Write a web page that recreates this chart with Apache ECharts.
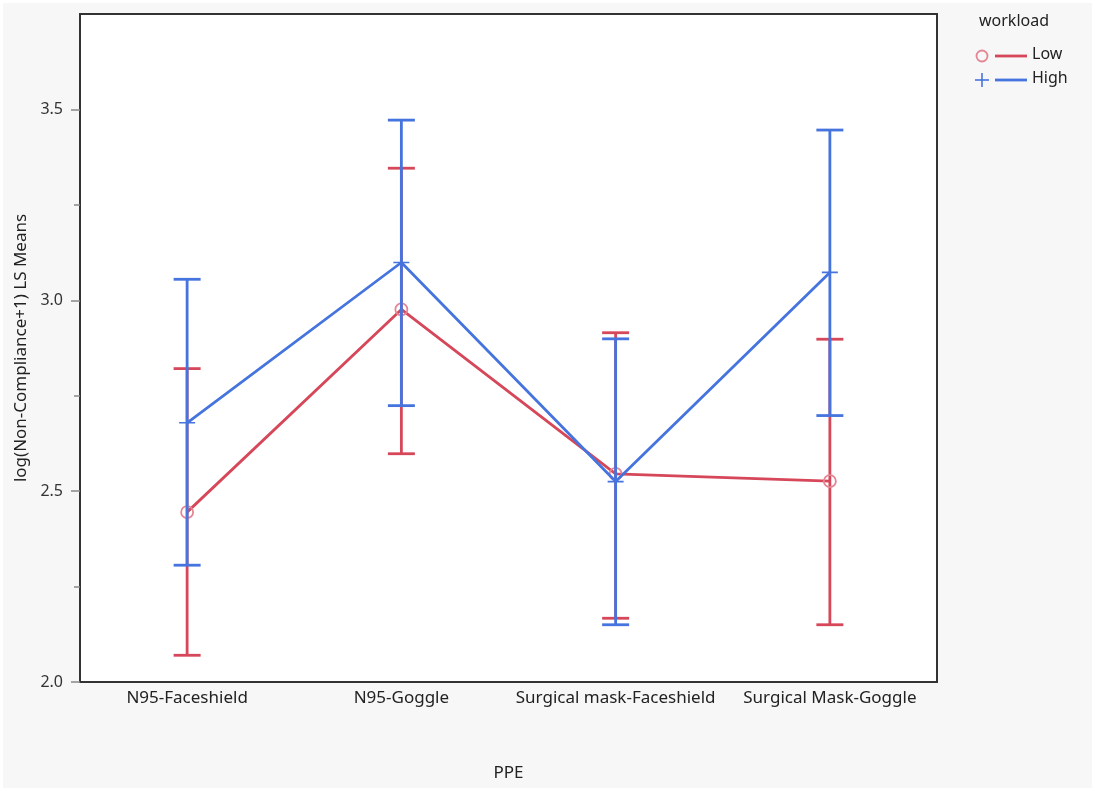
<!DOCTYPE html>
<html>
<head>
<meta charset="utf-8">
<script src="https://cdn.jsdelivr.net/npm/echarts@6/dist/echarts.min.js"></script>
<style>
html,body{margin:0;padding:0;background:#fff;}
#c{width:1095px;height:791px;}
</style>
</head>
<body>
<div id="c"></div>
<script>
// ---- data ----
var categories = ['N95-Faceshield', 'N95-Goggle', 'Surgical mask-Faceshield', 'Surgical Mask-Goggle'];
var lowMean  = [2.445, 2.976, 2.545, 2.526];
var lowUpper = [2.821, 3.346, 2.915, 2.898];
var lowLower = [2.070, 2.598, 2.167, 2.150];
var highMean  = [2.679, 3.099, 2.525, 3.073];
var highUpper = [3.055, 3.472, 2.899, 3.446];
var highLower = [2.306, 2.724, 2.150, 2.698];
var yMajorTicks = [2.0, 2.5, 3.0, 3.5];
var yMinorTicks = [2.25, 2.75, 3.25];

var RED = '#d6475a';
var RED_MARK = '#e48593';
var BLUE = '#4674de';
var FONT = 'Noto Sans';

function barData(lo, hi) {
  return categories.map(function (c, i) { return [i, lo[i], hi[i]]; });
}
function errRender(color) {
  return function (params, api) {
    var x = api.value(0);
    var p1 = api.coord([x, api.value(1)]);
    var p2 = api.coord([x, api.value(2)]);
    var hw = 13.5;
    var st = { stroke: color, lineWidth: 2.8 };
    return {
      type: 'group',
      children: [
        { type: 'line', shape: { x1: p1[0], y1: p1[1], x2: p2[0], y2: p2[1] }, style: st },
        { type: 'line', shape: { x1: p1[0] - hw, y1: p1[1], x2: p1[0] + hw, y2: p1[1] }, style: st },
        { type: 'line', shape: { x1: p2[0] - hw, y1: p2[1], x2: p2[0] + hw, y2: p2[1] }, style: st }
      ]
    };
  };
}

var chart = echarts.init(document.getElementById('c'));
chart.setOption({
  backgroundColor: '#f7f7f7',
  animation: false,
  textStyle: { fontFamily: FONT },
  grid: {
    left: 80, right: 158, top: 14, bottom: 109,
    show: true, backgroundColor: '#ffffff', borderColor: '#333', borderWidth: 2
  },
  xAxis: {
    type: 'category',
    data: categories,
    boundaryGap: true,
    axisLine: { show: false },
    axisTick: { show: false },
    axisLabel: { interval: 0, fontSize: 17, color: '#222', margin: 8, fontFamily: FONT },
    name: 'PPE',
    nameLocation: 'middle',
    nameGap: 83,
    nameTextStyle: { fontSize: 17, color: '#222', fontFamily: FONT },
    splitLine: { show: false }
  },
  yAxis: [{
    type: 'value',
    min: 2, max: 3.75, interval: 0.5,
    axisLine: { show: false },
    axisTick: { show: true, length: 9, customValues: yMajorTicks, lineStyle: { color: '#888', width: 1.5 } },
    axisLabel: { customValues: yMajorTicks, fontSize: 16, color: '#333', margin: 17, fontFamily: FONT,
      formatter: function (v) { return v.toFixed(1); } },
    splitLine: { show: false },
    name: 'log(Non-Compliance+1) LS Means',
    nameLocation: 'middle',
    nameGap: 48,
    nameTextStyle: { fontSize: 17, color: '#222', fontFamily: FONT }
  }, {
    type: 'value',
    position: 'left',
    min: 2, max: 3.75, interval: 0.5,
    axisLine: { show: false },
    axisTick: { show: true, length: 6, customValues: yMinorTicks, lineStyle: { color: '#888', width: 1.5 } },
    axisLabel: { show: false },
    splitLine: { show: false }
  }],
  series: [
    {
      name: 'Low bars', type: 'custom', renderItem: errRender(RED),
      data: barData(lowLower, lowUpper), encode: { x: 0, y: [1, 2] }, z: 2
    },
    {
      name: 'Low', type: 'line', data: lowMean,
      symbol: 'circle', symbolSize: 12,
      lineStyle: { color: RED, width: 2.8 },
      itemStyle: { color: 'rgba(255,255,255,0)', borderColor: RED_MARK, borderWidth: 1.8 },
      z: 3
    },
    {
      name: 'High bars', type: 'custom', renderItem: errRender(BLUE),
      data: barData(highLower, highUpper), encode: { x: 0, y: [1, 2] }, z: 4
    },
    {
      name: 'High', type: 'line', data: highMean,
      symbol: 'path://M0,7.2h16v1.6h-16z M7.2,0h1.6v16h-1.6z', symbolSize: [16, 16],
      lineStyle: { color: BLUE, width: 2.8 },
      itemStyle: { color: BLUE },
      z: 5
    }
  ],
  graphic: [
    { type: 'rect', shape: { x: 0, y: 0, width: 1095, height: 791 }, style: { fill: 'none', stroke: '#fff', lineWidth: 6 }, z: 100 },
    { type: 'text', left: 979, top: 13, style: { text: 'workload', fontSize: 16, fill: '#222', fontFamily: FONT } },
    { type: 'circle', shape: { cx: 982, cy: 56, r: 5.5 }, style: { fill: 'none', stroke: RED_MARK, lineWidth: 1.8 } },
    { type: 'line', shape: { x1: 995, y1: 56, x2: 1027, y2: 56 }, style: { stroke: RED, lineWidth: 2.8 } },
    { type: 'text', left: 1032, top: 46, style: { text: 'Low', fontSize: 16, fill: '#222', fontFamily: FONT } },
    { type: 'line', shape: { x1: 975, y1: 80, x2: 989, y2: 80 }, style: { stroke: BLUE, lineWidth: 1.6 } },
    { type: 'line', shape: { x1: 982, y1: 73, x2: 982, y2: 87 }, style: { stroke: BLUE, lineWidth: 1.6 } },
    { type: 'line', shape: { x1: 995, y1: 80, x2: 1027, y2: 80 }, style: { stroke: BLUE, lineWidth: 2.8 } },
    { type: 'text', left: 1032, top: 70, style: { text: 'High', fontSize: 16, fill: '#222', fontFamily: FONT } }
  ]
});
</script>
</body>
</html>
